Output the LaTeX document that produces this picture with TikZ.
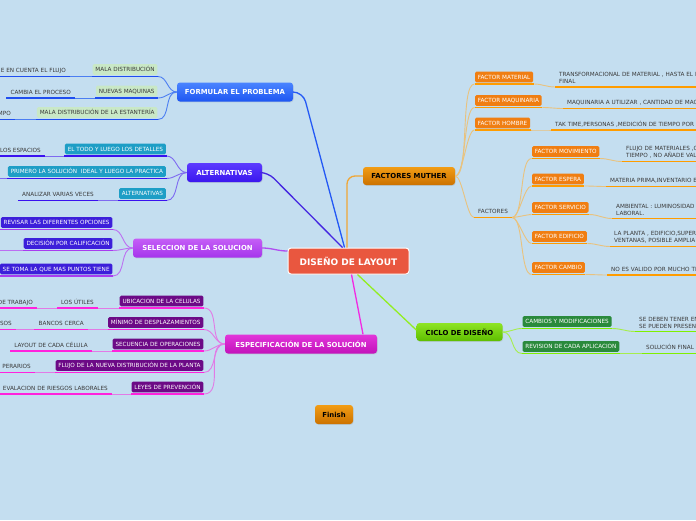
\documentclass[tikz,border=0pt]{standalone}
\usepackage{fontspec}
\setmainfont{DejaVu Sans}
\usetikzlibrary{shadows}

\definecolor{bgblue}{RGB}{196,222,240}
\definecolor{txtgray}{HTML}{3A3A3A}
\definecolor{coreRed}{HTML}{E9573F}
\definecolor{fpTop}{HTML}{4A84FF}\definecolor{fpBot}{HTML}{1E56F2}
\definecolor{fpLine}{HTML}{2459F5}\definecolor{fpThin}{HTML}{4C7EF2}
\definecolor{fpLeaf}{HTML}{C9E8C6}\definecolor{fpUl}{HTML}{1F4EF0}
\definecolor{alTop}{HTML}{5C3BFF}\definecolor{alBot}{HTML}{3A16EE}
\definecolor{alLine}{HTML}{4426E0}\definecolor{alThin}{HTML}{7E6AF0}
\definecolor{alLeaf}{HTML}{1E9EC6}\definecolor{alUl}{HTML}{3A12F0}
\definecolor{ssTop}{HTML}{C55EF6}\definecolor{ssBot}{HTML}{A535EC}
\definecolor{ssLine}{HTML}{B04EF0}\definecolor{ssThin}{HTML}{BC6EF2}
\definecolor{ssLeaf}{HTML}{3C1FDA}\definecolor{ssUl}{HTML}{A83CF0}
\definecolor{esTop}{HTML}{E236DA}\definecolor{esBot}{HTML}{C212BA}
\definecolor{esLine}{HTML}{F22AE2}\definecolor{esThin}{HTML}{E27AE6}
\definecolor{esLeaf}{HTML}{6C0A86}\definecolor{esUl}{HTML}{FF22DD}
\definecolor{fmTop}{HTML}{F29C14}\definecolor{fmBot}{HTML}{CC7200}
\definecolor{fmLine}{HTML}{F0A636}\definecolor{fmThin}{HTML}{E9C27E}
\definecolor{fmLeaf}{HTML}{F07E12}\definecolor{fmUl}{HTML}{FF9C00}
\definecolor{cdTop}{HTML}{8EE424}\definecolor{cdBot}{HTML}{5EBE00}
\definecolor{cdLine}{HTML}{92EE22}\definecolor{cdThin}{HTML}{A6EE4C}
\definecolor{cdLeaf}{HTML}{2A8A3C}\definecolor{cdUl}{HTML}{80F000}

\tikzset{
  topic/.style={rounded corners=3pt, inner sep=0pt,
    font=\bfseries\fontsize{6.9}{8}\selectfont,
    drop shadow={opacity=0.2, shadow xshift=0.6pt, shadow yshift=-0.8pt}},
  leafbox/.style={rounded corners=1.5pt, inner xsep=2.8pt, inner ysep=3.3pt,
    outer xsep=0.6pt, outer ysep=1.6pt, text height=4.3pt, text depth=0pt,
    font=\fontsize{5.7}{7}\selectfont},
  leaftext/.style={inner xsep=4pt, inner ysep=3.6pt, text height=4.3pt,
    text depth=0pt, text=txtgray, font=\fontsize{5.7}{7}\selectfont},
  rtext/.style={leaftext, anchor=south west, inner xsep=4pt, text width=230pt, align=left},
  rtwo/.style={rtext, text height={}, text depth={}, inner ysep=3pt},
  uline/.style={line width=1.8pt},
  thin/.style={line width=0.9pt},
  mainline/.style={line width=1.3pt}
}

\begin{document}
\begin{tikzpicture}[x=1pt,y=-1pt]
\useasboundingbox (0,0) rectangle (696,520);
\fill[bgblue] (0,0) rectangle (696,520);
\clip (0,0) rectangle (696,520);

% central topic and main branches
\node[topic, fill=coreRed, draw=white, line width=1pt, text=white,
  font=\bfseries\fontsize{9}{10}\selectfont, minimum width=121pt, minimum height=26pt]
  (dl) at (348.5,261) {DISEÑO DE LAYOUT};
\node[topic, top color=fpTop, bottom color=fpBot, text=white, minimum width=116pt, minimum height=19pt]
  (fp) at (235,92) {FORMULAR EL PROBLEMA};
\node[topic, top color=alTop, bottom color=alBot, text=white, minimum width=75pt, minimum height=19pt]
  (al) at (224.5,172.5) {ALTERNATIVAS};
\node[topic, top color=ssTop, bottom color=ssBot, text=white, minimum width=129pt, minimum height=19pt]
  (ss) at (197.5,248) {SELECCION DE LA SOLUCION};
\node[topic, top color=esTop, bottom color=esBot, text=white, minimum width=152pt, minimum height=19pt]
  (es) at (301,344) {ESPECIFICACIÓN DE LA SOLUCIÓN};
\node[topic, top color=fmTop, bottom color=fmBot, text=black, minimum width=92pt, minimum height=18pt]
  (fm) at (409,176) {FACTORES MUTHER};
\node[topic, top color=cdTop, bottom color=cdBot, text=black, minimum width=86pt, minimum height=18pt]
  (cd) at (459.5,332) {CICLO DE DISEÑO};
\node[topic, top color=fmTop, bottom color=fmBot, text=black, minimum width=38pt, minimum height=19pt]
  (fin) at (334,414.5) {Finish};

\draw[mainline, fpLine, rounded corners=10pt] ([xshift=-4pt]dl.north) -- (303,92) -- (fp.east);
\draw[mainline, alLine, rounded corners=8pt] ([xshift=-6pt]dl.north) -- (268,172.5) -- (al.east);
\draw[mainline, ssLine] (ss.east) to[out=0,in=180] ([yshift=10pt]dl.west);
\draw[mainline, esLine] ([xshift=3pt]dl.south) -- ([xshift=62pt]es.north);
\draw[mainline, fmLine, rounded corners=8pt] ([xshift=-1.5pt]dl.north) |- (fm.west);
\draw[mainline, cdLine] ([xshift=9pt]dl.south) -- ([yshift=2pt]cd.west);

% formular el problema
\node[leafbox, fill=fpLeaf, text=txtgray, anchor=south east] (f1) at (158,76.5) {MALA DISTRIBUCIÓN};
\node[leaftext, anchor=south east] (f1a) at (70,76.5) {E EN CUENTA EL FLUJO};
\node[leafbox, fill=fpLeaf, text=txtgray, anchor=south east] (f2) at (158,98) {NUEVAS MAQUINAS};
\node[leaftext, anchor=south east] (f2a) at (75,98) {CAMBIA EL PROCESO};
\node[leafbox, fill=fpLeaf, text=txtgray, anchor=south east] (f3) at (158,119.5) {MALA DISTRIBUCIÓN DE LA ESTANTERÍA};
\node[leaftext, anchor=south east] (f3a) at (15,119.5) {MPO};
\foreach \c in {f1,f2,f3}
  \draw[thin, fpThin] (fp.west) to[out=180,in=0] (\c.south east);
\foreach \a/\b in {f1/f1a,f2/f2a,f3/f3a}
  \draw[thin, fpThin] (\a.south west) -- (\b.south east);
\foreach \n in {f1,f1a,f2,f2a,f3,f3a}
  \draw[uline, fpUl] (\n.south west) -- (\n.south east);

% alternativas
\node[leafbox, fill=alLeaf, text=white, anchor=south east] (a1) at (166.5,156) {EL TODO Y LUEGO LOS DETALLES};
\node[leaftext, anchor=south east] (a1a) at (45,156) {LOS ESPACIOS};
\node[leafbox, fill=alLeaf, text=white, anchor=south east] (a2) at (166.5,178.5) {PRIMERO LA SOLUCIÓN\ \ IDEAL Y LUEGO LA PRACTICA};
\coordinate (a2a) at (-10,178.5);
\node[leafbox, fill=alLeaf, text=white, anchor=south east] (a3) at (166.5,200.5) {ALTERNATIVAS};
\node[leaftext, anchor=south east] (a3a) at (98,200.5) {ANALIZAR VARIAS VECES};
\foreach \c in {a1,a2,a3}
  \draw[thin, alThin] (al.west) to[out=180,in=0] (\c.south east);
\draw[thin, alThin] (a1.south west) -- (a1a.south east);
\draw[thin, alThin] (a2.south west) -- (a2a);
\draw[thin, alThin] (a3.south west) -- (a3a.south east);
\foreach \n in {a1,a1a,a2,a3,a3a}
  \draw[uline, alUl] (\n.south west) -- (\n.south east);

% seleccion de la solucion
\node[leafbox, fill=ssLeaf, text=white, anchor=south east] (s1) at (113,229.5) {REVISAR LAS DIFERENTES OPCIONES};
\node[leafbox, fill=ssLeaf, text=white, anchor=south east] (s2) at (113,250.5) {DECISIÓN POR CALIFICACIÓN};
\coordinate (s2a) at (-10,250.5);
\node[leafbox, fill=ssLeaf, text=white, anchor=south east] (s3) at (113,276) {SE TOMA LA QUE MAS PUNTOS TIENE};
\foreach \c in {s1,s2,s3}
  \draw[thin, ssThin] (ss.west) to[out=180,in=0] (\c.south east);
\draw[thin, ssThin] (s2.south west) -- (s2a);
\foreach \n in {s1,s2,s3}
  \draw[uline, ssUl] (\n.south west) -- (\n.south east);

% especificacion de la solucion
\node[leafbox, fill=esLeaf, text=white, anchor=south east] (e1) at (204,308) {UBICACION DE LA CELULAS};
\node[leaftext, anchor=south east] (e1a) at (98,308) {LOS ÚTILES};
\node[leaftext, anchor=south east] (e1b) at (37,308) {DE TRABAJO};
\node[leafbox, fill=esLeaf, text=white, anchor=south east] (e2) at (204,329.5) {MÍNIMO DE DESPLAZAMIENTOS};
\node[leaftext, anchor=south east] (e2a) at (88,329.5) {BANCOS CERCA};
\node[leaftext, anchor=south east] (e2b) at (16,329.5) {SOS};
\node[leafbox, fill=esLeaf, text=white, anchor=south east] (e3) at (204,351) {SECUENCIA DE OPERACIONES};
\node[leaftext, anchor=south east] (e3a) at (92,351) {LAYOUT DE CADA CÉLULA};
\node[leafbox, fill=esLeaf, text=white, anchor=south east] (e4) at (204,372.5) {FLUJO DE LA NUEVA DISTRIBUCIÓN DE LA PLANTA};
\node[leaftext, anchor=south east] (e4a) at (35,372.5) {PERARIOS};
\node[leafbox, fill=esLeaf, text=white, anchor=south east] (e5) at (204,394) {LEYES DE PREVENCIÓN};
\node[leaftext, anchor=south east] (e5a) at (112,394) {EVALACION DE RIESGOS LABORALES};
\foreach \c in {e1,e2,e3,e4,e5}
  \draw[thin, esThin] (es.west) to[out=180,in=0] (\c.south east);
\foreach \a/\b in {e1/e1a,e1a/e1b,e2/e2a,e2a/e2b,e3/e3a,e4/e4a,e5/e5a}
  \draw[thin, esThin] (\a.south west) -- (\b.south east);
\foreach \n in {e1,e1a,e1b,e2,e2a,e2b,e3,e3a,e4,e4a,e5,e5a}
  \draw[uline, esUl] (\n.south west) -- (\n.south east);

% factores muther
\node[leafbox, fill=fmLeaf, text=white, anchor=south west] (m1) at (474.5,84) {FACTOR MATERIAL};
\node[rtwo] (m1a) at (555,87) {TRANSFORMACIONAL DE MATERIAL , HASTA EL P\\FINAL};
\node[leafbox, fill=fmLeaf, text=white, anchor=south west] (m2) at (474.5,107.5) {FACTOR MAQUINARIA};
\node[rtext] (m2a) at (563,108.5) {MAQUINARIA A UTILIZAR , CANTIDAD DE MAC};
\node[leafbox, fill=fmLeaf, text=white, anchor=south west] (m3) at (474.5,130) {FACTOR HOMBRE};
\node[rtext] (m3a) at (551,130) {TAK TIME,PERSONAS ,MEDICIÓN DE TIEMPO POR};
\node[leaftext, anchor=south west] (m4) at (474,217.5) {FACTORES};
\node[leafbox, fill=fmLeaf, text=white, anchor=south west] (m5) at (531.5,158.5) {FACTOR MOVIMIENTO};
\node[rtwo] (m5a) at (622,161.5) {FLUJO DE MATERIALES ,C\\TIEMPO , NO AÑADE VAL};
\node[leafbox, fill=fmLeaf, text=white, anchor=south west] (m6) at (531.5,186) {FACTOR ESPERA};
\node[rtext] (m6a) at (606,186.5) {MATERIA PRIMA,INVENTARIO E};
\node[leafbox, fill=fmLeaf, text=white, anchor=south west] (m7) at (531.5,214.5) {FACTOR SERVICIO};
\node[rtwo] (m7a) at (612,218.5) {AMBIENTAL : LUMINOSIDAD\\LABORAL.};
\node[leafbox, fill=fmLeaf, text=white, anchor=south west] (m8) at (531.5,243.5) {FACTOR EDIFICIO};
\node[rtwo] (m8a) at (610,246.5) {LA PLANTA , EDIFICIO,SUPER\\VENTANAS, POSIBLE AMPLIA};
\node[leafbox, fill=fmLeaf, text=white, anchor=south west] (m9) at (531.5,274.5) {FACTOR CAMBIO};
\node[rtext] (m9a) at (607,275) {NO ES VALIDO POR MUCHO TI};
\foreach \c in {m1,m2,m3,m4}
  \draw[thin, fmThin] (fm.east) to[out=0,in=180,looseness=0.4] (\c.south west);
\foreach \c in {m5,m6,m7,m8,m9}
  \draw[thin, fmThin] (m4.south east) to[out=0,in=180,looseness=0.5] (\c.south west);
\foreach \a in {m1,m2,m3,m5,m6,m7,m8,m9}
  \draw[thin, fmThin] (\a.south east) to[out=0,in=180] (\a a.south west);
\foreach \n in {m1,m1a,m2,m2a,m3,m3a,m4,m5,m5a,m6,m6a,m7,m7a,m8,m8a,m9,m9a}
  \draw[uline, fmUl] (\n.south west) -- (\n.south east);

% ciclo de diseno
\node[leafbox, fill=cdLeaf, text=white, anchor=south west] (c1) at (522,328.5) {CAMBIOS Y MODIFICACIONES};
\node[rtwo] (c1a) at (635,331.5) {SE DEBEN TENER EN\\SE PUEDEN PRESENT};
\node[leafbox, fill=cdLeaf, text=white, anchor=south west] (c2) at (522,353.5) {REVISION DE CADA APLICACION};
\node[rtext] (c2a) at (642,353.5) {SOLUCIÓN FINAL};
\foreach \c in {c1,c2}
  \draw[thin, cdThin] (cd.east) to[out=0,in=180] (\c.south west);
\foreach \a in {c1,c2}
  \draw[thin, cdThin] (\a.south east) to[out=0,in=180] (\a a.south west);
\foreach \n in {c1,c1a,c2,c2a}
  \draw[uline, cdUl] (\n.south west) -- (\n.south east);
\end{tikzpicture}
\end{document}
